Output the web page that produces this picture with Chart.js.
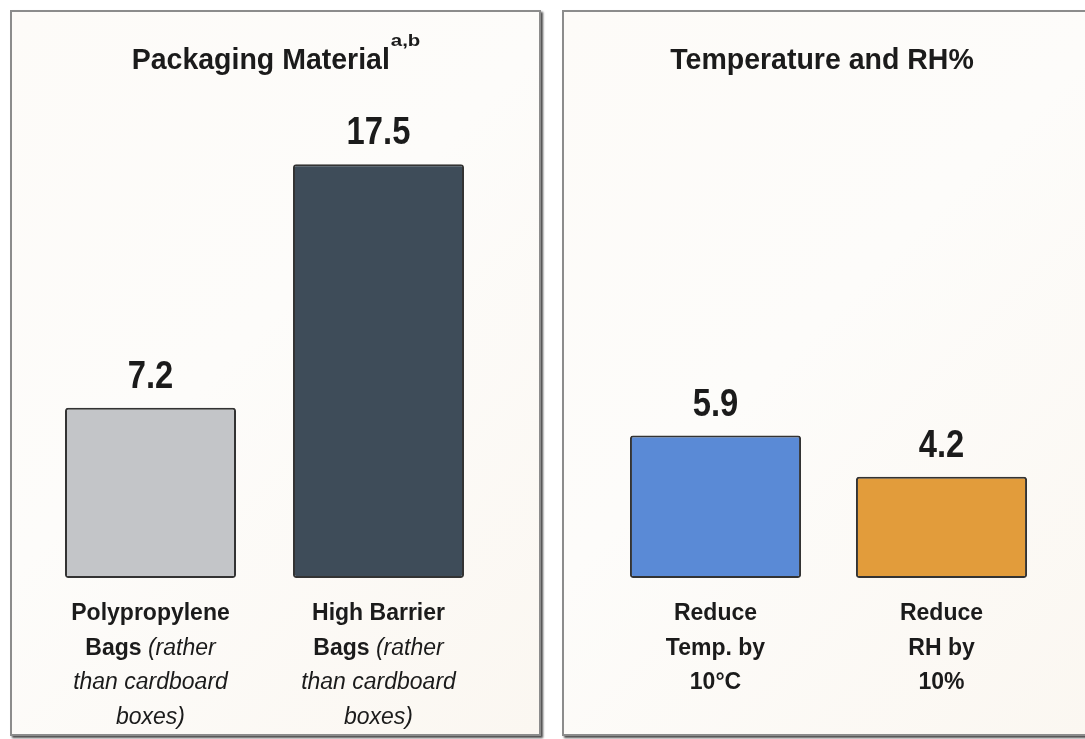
<!DOCTYPE html>
<html>
<head>
<meta charset="utf-8">
<script src="https://cdn.jsdelivr.net/npm/chart.js@4.4.1/dist/chart.umd.min.js"></script>
<style>
  html, body { margin: 0; padding: 0; background: #ffffff; }
  body { width: 1085px; height: 739px; position: relative; overflow: hidden; }
  .panel {
    position: absolute; top: 10px; height: 722px;
    border: 2px solid #8c8c8c;
    box-shadow: 2px 2px 2px rgba(0,0,0,0.7);
    background: linear-gradient(135deg, #fdfbf8 0%, #fdfcfa 45%, #fbf7f1 100%);
  }
  #panelLeft { left: 10px; width: 527px; }
  #panelRight { left: 562px; width: 530px; }
  canvas { position: absolute; top: 10px; }
  #chartLeft { left: 10px; }
  #chartRight { left: 562px; }
</style>
</head>
<body>
<div class="panel" id="panelLeft"></div>
<div class="panel" id="panelRight"></div>
<canvas id="chartLeft" width="531" height="726"></canvas>
<canvas id="chartRight" width="520" height="726"></canvas>
<script>
// Packaging material panel
const packagingTitle = 'Packaging Material';
const packagingTitleNote = 'a,b';
const packagingCategories = ['Polypropylene Bags', 'High Barrier Bags'];
const packagingValues = [7.2, 17.5];
const packagingTickLines = [
  ['Polypropylene', 'Bags (rather', 'than cardboard', 'boxes)'],
  ['High Barrier', 'Bags (rather', 'than cardboard', 'boxes)']
];

// Temperature and humidity panel
const climateTitle = 'Temperature and RH%';
const climateCategories = ['Reduce Temp. by 10°C', 'Reduce RH by 10%'];
const climateValues = [5.9, 4.2];
const climateTickLines = [
  ['Reduce', 'Temp. by', '10°C'],
  ['Reduce', 'RH by', '10%']
];

const FAMILY = "'Liberation Sans', Arial, Helvetica, sans-serif";
const INK = '#1b1b1b';

// Split a multi-line label into bold / italic runs per line:
// text inside parentheses is italic, even when it wraps onto later lines.
function runsOfLabel(lines) {
  let italic = false;
  return lines.map(line => {
    const runs = [];
    let buf = '';
    for (const ch of line) {
      if (ch === '(' && !italic) {
        if (buf) runs.push({ text: buf, italic: false });
        buf = '('; italic = true;
      } else if (ch === ')' && italic) {
        buf += ')';
        runs.push({ text: buf, italic: true });
        buf = ''; italic = false;
      } else {
        buf += ch;
      }
    }
    if (buf) runs.push({ text: buf, italic: italic });
    return runs;
  });
}

function fontFor(run, size) {
  return run.italic ? `italic 400 ${size}px ${FAMILY}` : `700 ${size}px ${FAMILY}`;
}

function scaledText(ctx, text, x, y, sx) {
  ctx.save();
  ctx.translate(x, y);
  ctx.scale(sx, 1);
  ctx.fillText(text, 0, 0);
  ctx.restore();
}

const panelDecor = {
  id: 'panelDecor',
  afterDatasetsDraw(chart, args, opts) {
    const ctx = chart.ctx;
    const xs = chart.scales.x;
    const meta = chart.getDatasetMeta(0);
    const cx = chart.width / 2;
    ctx.save();
    ctx.fillStyle = INK;
    ctx.textBaseline = 'alphabetic';
    ctx.textAlign = 'left';

    // Panel heading (with optional superscript note)
    const titleScale = 0.95;
    ctx.font = `700 30px ${FAMILY}`;
    const tw = ctx.measureText(opts.title).width * titleScale;
    let nw = 0;
    if (opts.note) {
      ctx.font = `700 17px ${FAMILY}`;
      nw = ctx.measureText(opts.note).width * 1.2;
    }
    const tx = cx - (tw + nw) / 2;
    ctx.font = `700 30px ${FAMILY}`;
    scaledText(ctx, opts.title, tx, 58.5, titleScale);
    if (opts.note) {
      ctx.font = `700 17px ${FAMILY}`;
      scaledText(ctx, opts.note, tx + tw + 1, 35.5, 1.2);
    }

    // Value labels above each bar
    ctx.font = `700 39px ${FAMILY}`;
    meta.data.forEach((bar, i) => {
      const v = chart.data.datasets[0].data[i];
      const txt = v.toFixed(1);
      const sx = 0.84;
      const w = ctx.measureText(txt).width * sx;
      scaledText(ctx, txt, bar.x - w / 2, bar.y - 20, sx);
    });

    // Multi-line category labels under the bars
    const lineGap = 34.5;
    const firstBase = chart.chartArea.bottom + 42;
    opts.tickLines.forEach((lines, i) => {
      const x = xs.getPixelForValue(i);
      runsOfLabel(lines).forEach((runs, j) => {
        let total = 0;
        runs.forEach(r => { ctx.font = fontFor(r, 23); r.w = ctx.measureText(r.text).width; total += r.w; });
        let px = x - total / 2;
        runs.forEach(r => {
          ctx.font = fontFor(r, 23);
          ctx.fillText(r.text, px, firstBase + j * lineGap);
          px += r.w;
        });
      });
    });
    ctx.restore();
  }
};

function makeChart(canvasId, labels, values, colors, barPct, yMax, padding, decor) {
  return new Chart(document.getElementById(canvasId), {
    type: 'bar',
    data: {
      labels: labels,
      datasets: [{
        data: values,
        backgroundColor: colors,
        borderColor: '#333333',
        borderWidth: 2,
        borderRadius: 3,
        borderSkipped: false,
        barPercentage: barPct,
        categoryPercentage: 1.0
      }]
    },
    options: {
      responsive: false,
      animation: false,
      events: [],
      layout: { padding: padding },
      scales: {
        x: { display: false },
        y: { display: false, min: 0, max: yMax }
      },
      plugins: {
        legend: { display: false },
        tooltip: { enabled: false },
        title: { display: false },
        panelDecor: decor
      }
    },
    plugins: [panelDecor]
  });
}

makeChart('chartLeft', packagingCategories, packagingValues,
  ['#c3c5c8', '#3e4c59'], 0.75, 20,
  { left: 26.5, right: 48.5, top: 95, bottom: 158 },
  { title: packagingTitle, note: packagingTitleNote, tickLines: packagingTickLines });

makeChart('chartRight', climateCategories, climateValues,
  ['#5a8ad6', '#e29c3b'], 0.757, 19.6,
  { left: 40.5, right: 27.5, top: 95, bottom: 158 },
  { title: climateTitle, note: '', tickLines: climateTickLines });
</script>
</body>
</html>
